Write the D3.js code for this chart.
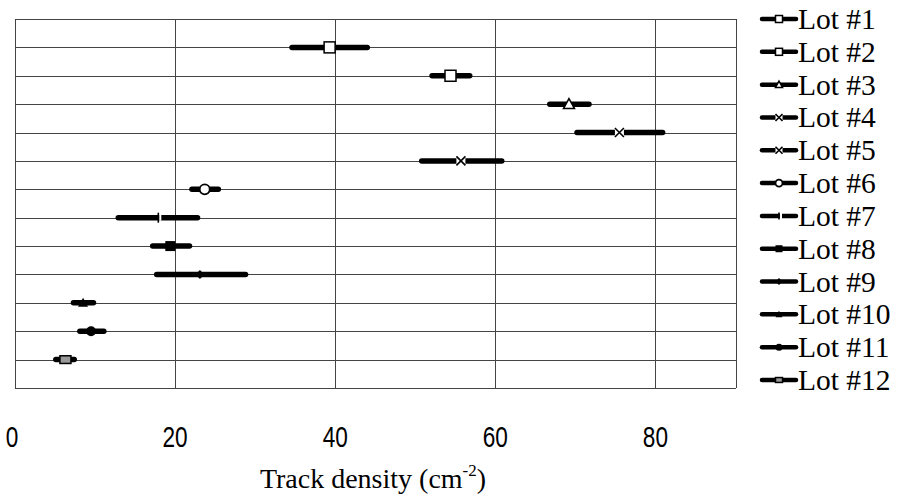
<!DOCTYPE html>
<html>
<head>
<meta charset="utf-8">
<script src="https://cdn.jsdelivr.net/npm/d3@7"></script>
<style>
  html, body { margin: 0; padding: 0; background: #fff; }
  svg { display: block; }
</style>
</head>
<body>
<svg id="chart" width="898" height="497"></svg>
<script>
// Track density per lot: mean value with low / high range
const lots   = ["Lot #1","Lot #2","Lot #3","Lot #4","Lot #5","Lot #6","Lot #7","Lot #8","Lot #9","Lot #10","Lot #11","Lot #12"];
const means  = [39.3, 54.4, 69.2, 75.5, 55.7, 23.7, 17.9, 19.4, 23.1, 8.5, 9.5, 6.3];
const lows   = [34.6, 52.1, 66.8, 70.2, 50.8, 22.1, 12.9, 17.2, 17.7, 7.3, 8.1, 5.1];
const highs  = [44.0, 56.8, 71.7, 80.9, 60.8, 25.4, 22.8, 21.8, 28.8, 9.8, 11.1, 7.4];
const markers = ["square","square","triangle","cross","cross","circle","plus","fsquare","diamond","ftriangle","fcircle","gsquare"];
const xTicks = [0, 20, 40, 60, 80];

const svg = d3.select("#chart");
const plotLeft = 15, plotRight = 735.5, plotTop = 19, plotBottom = 388;

const x = d3.scaleLinear().domain([0, 90]).range([plotLeft, plotRight]);
const y = d3.scaleLinear().domain([0, 13]).range([plotTop, plotBottom]);

const grid = svg.append("g").attr("stroke", "#444").attr("stroke-width", 1).attr("shape-rendering", "crispEdges");
// horizontal grid lines, one per lot plus the frame
grid.selectAll("line.h").data(d3.range(0, 14)).join("line")
  .attr("class", "h")
  .attr("x1", plotLeft).attr("x2", plotRight)
  .attr("y1", d => Math.round(y(d)) + 0.5).attr("y2", d => Math.round(y(d)) + 0.5);
// vertical grid lines
grid.selectAll("line.v").data([0, 20, 40, 60, 80, 90]).join("line")
  .attr("class", "v")
  .attr("y1", plotTop).attr("y2", plotBottom)
  .attr("x1", d => Math.round(x(d)) + 0.5).attr("x2", d => Math.round(x(d)) + 0.5);

// marker drawing helper
function drawMarker(g, type, cx, cy, s) {
  const h = s / 2;
  switch (type) {
    case "square":
      g.append("rect").attr("x", cx - h).attr("y", cy - h).attr("width", s).attr("height", s)
        .attr("fill", "#fff").attr("stroke", "#000").attr("stroke-width", 1.5); break;
    case "gsquare":
      g.append("rect").attr("x", cx - h).attr("y", cy - h * 0.7).attr("width", s).attr("height", s * 0.7)
        .attr("fill", "#999").attr("stroke", "#000").attr("stroke-width", 1.5); break;
    case "fsquare":
      g.append("rect").attr("x", cx - h).attr("y", cy - h).attr("width", s).attr("height", s)
        .attr("fill", "#000"); break;
    case "triangle":
      g.append("path").attr("d", `M${cx},${cy - h}L${cx + h},${cy + h * 0.8}L${cx - h},${cy + h * 0.8}Z`)
        .attr("fill", "#fff").attr("stroke", "#000").attr("stroke-width", 1.5); break;
    case "ftriangle":
      g.append("path").attr("d", `M${cx},${cy - h}L${cx + h},${cy + h * 0.8}L${cx - h},${cy + h * 0.8}Z`)
        .attr("fill", "#000"); break;
    case "circle":
      g.append("circle").attr("cx", cx).attr("cy", cy).attr("r", h)
        .attr("fill", "#fff").attr("stroke", "#000").attr("stroke-width", 1.8); break;
    case "fcircle":
      g.append("circle").attr("cx", cx).attr("cy", cy).attr("r", h).attr("fill", "#000"); break;
    case "diamond":
      g.append("path").attr("d", `M${cx},${cy - h}L${cx + h},${cy}L${cx},${cy + h}L${cx - h},${cy}Z`)
        .attr("fill", "#000"); break;
    case "cross":
      g.append("rect").attr("x", cx - h).attr("y", cy - h).attr("width", s).attr("height", s).attr("fill", "#fff");
      g.append("path").attr("d", `M${cx - h},${cy - h}L${cx + h},${cy + h}M${cx + h},${cy - h}L${cx - h},${cy + h}`)
        .attr("stroke", "#000").attr("stroke-width", 1.6); break;
    case "plus":
      g.append("path").attr("d", `M${cx},${cy - h}L${cx},${cy + h}`)
        .attr("stroke", "#000").attr("stroke-width", 1.6);
      g.append("rect").attr("x", cx + 1).attr("y", cy - 3).attr("width", 2).attr("height", 6).attr("fill", "#fff"); break;
  }
}

// range bars and centre markers
const rows = svg.append("g");
lots.forEach((name, i) => {
  const g = rows.append("g");
  const cy = y(i + 1);
  g.append("line")
    .attr("x1", x(lows[i])).attr("x2", x(highs[i]))
    .attr("y1", cy).attr("y2", cy)
    .attr("stroke", "#000").attr("stroke-width", 5.5).attr("stroke-linecap", "round");
  const size = { square: 11, gsquare: 11, fsquare: 10, triangle: 11, ftriangle: 10, circle: 10,
                 fcircle: 10, diamond: 9, cross: 9, plus: 10 }[markers[i]];
  drawMarker(g, markers[i], x(means[i]), cy, size);
});

// x axis tick labels
const xa = svg.append("g").attr("font-family", "'Liberation Sans', Arial, sans-serif")
  .attr("font-size", 29).attr("fill", "#000");
xa.selectAll("text").data(xTicks).join("text")
  .attr("transform", d => `translate(${d === 0 ? x(d) - 3 : x(d)},447) scale(0.78,1)`)
  .attr("text-anchor", "middle")
  .text(d => d);

// axis title
const title = svg.append("text")
  .attr("x", 373).attr("y", 488)
  .attr("text-anchor", "middle")
  .attr("font-family", "'Liberation Serif', 'Times New Roman', serif")
  .attr("font-size", 28).attr("fill", "#000");
title.append("tspan").text("Track density (cm");
title.append("tspan").attr("font-size", 17).attr("dy", -12).text("-2");
title.append("tspan").attr("dy", 12).text(")");

// legend
const legend = svg.append("g");
const ly = d3.scaleLinear().domain([0, 11]).range([19, 380]);
lots.forEach((name, i) => {
  const g = legend.append("g");
  const cy = ly(i);
  g.append("line").attr("x1", 762).attr("x2", 796).attr("y1", cy).attr("y2", cy)
    .attr("stroke", "#000").attr("stroke-width", 4.5).attr("stroke-linecap", "round");
  drawMarker(g, markers[i], 779, cy, 7);
  g.append("text").attr("x", 798).attr("y", cy + 10)
    .attr("font-family", "'Liberation Serif', 'Times New Roman', serif")
    .attr("font-size", 29.5).attr("fill", "#000")
    .text(name);
});
</script>
</body>
</html>
